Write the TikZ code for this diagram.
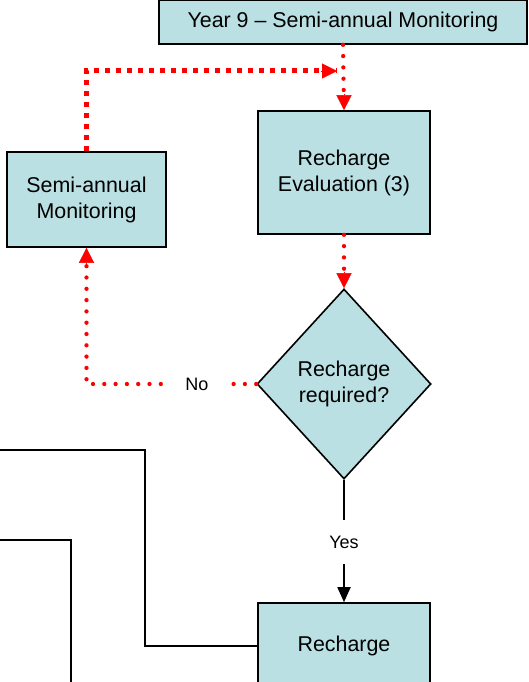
\documentclass[tikz,border=0pt]{standalone}
\usepackage{fontspec}
\setmainfont{Liberation Sans}
\usetikzlibrary{shapes.geometric,arrows.meta}
\definecolor{procfill}{RGB}{186,224,227}
\definecolor{flowred}{RGB}{255,0,0}
\begin{document}
\begin{tikzpicture}[x=1pt,y=-1pt,
  every node/.style={font=\fontsize{21.4}{26}\selectfont},
  procbox/.style={draw=black,line width=1.6pt,fill=procfill,align=center,inner sep=0pt},
  decision/.style={diamond,draw=black,line width=1.6pt,fill=procfill,align=center,inner sep=0pt,
    minimum width=174pt,minimum height=190pt},
  edgelabel/.style={font=\fontsize{18}{21}\selectfont,inner sep=0pt},
  reddots/.style={draw=flowred,line width=4.3pt,line cap=round,dash pattern=on 0pt off 11.3pt},
  redsquares/.style={draw=flowred,line width=5pt,line cap=butt,dash pattern=on 5pt off 6pt},
  redtip/.style={-{Triangle[length=15pt,width=15pt]},flowred},
  blackline/.style={draw=black,line width=1.8pt},
  blacktip/.style={-{Triangle[length=15pt,width=13pt]}}
]
\useasboundingbox (0,0) rectangle (529,682);

% process steps
\node[procbox,minimum width=368pt,minimum height=44pt] (top) at (343,22) {Year 9 -- Semi-annual Monitoring};
\node[procbox,minimum width=172pt,minimum height=123pt] (eval) at (344,172.5) {Recharge\\Evaluation (3)};
\node[procbox,minimum width=159pt,minimum height=95pt] (semi) at (86.5,199.5) {Semi-annual\\Monitoring};
\node[decision] (dec) at (344,384) {Recharge\\required?};
\node[procbox,minimum width=172pt,minimum height=86pt] (rech) at (344,646) {Recharge};

% branch labels (their boxes leave the gap in the connector)
\node[edgelabel,minimum width=72pt] (no) at (197,384) {No};
\node[edgelabel,minimum height=44pt] (yes) at (344,542) {Yes};

% loose ends of connectors
\coordinate (merge) at (337,71);
\coordinate (leftA) at (-5,450);
\coordinate (leftB) at (-5,540);
\coordinate (downB) at (71,690);

% red dotted flow (canvas shifts: positive yshift is upwards)
\draw[reddots] (top.south) -- (eval.north);
\draw[redtip] ([yshift=16pt]eval.north) -- (eval.north);
\draw[reddots] (eval.south) -- (dec.north);
\draw[redtip] ([yshift=16pt]dec.north) -- (dec.north);
\draw[redsquares] (semi.north) |- (merge);
\draw[redtip] ([xshift=-16pt]merge) -- (merge);
\draw[reddots] (dec.west) -- (no.east);
\draw[reddots] (no.west) -| (semi.south);
\draw[redtip] ([yshift=-16pt]semi.south) -- (semi.south);

% black flow
\draw[blackline] (dec.south) -- (yes.north);
\draw[blackline,blacktip] (yes.south) -- (rech.north);
\draw[blackline] (rech.west) -| (leftA -| 145,0) -- (leftA);
\draw[blackline] (leftB) -| (downB);
\end{tikzpicture}
\end{document}
